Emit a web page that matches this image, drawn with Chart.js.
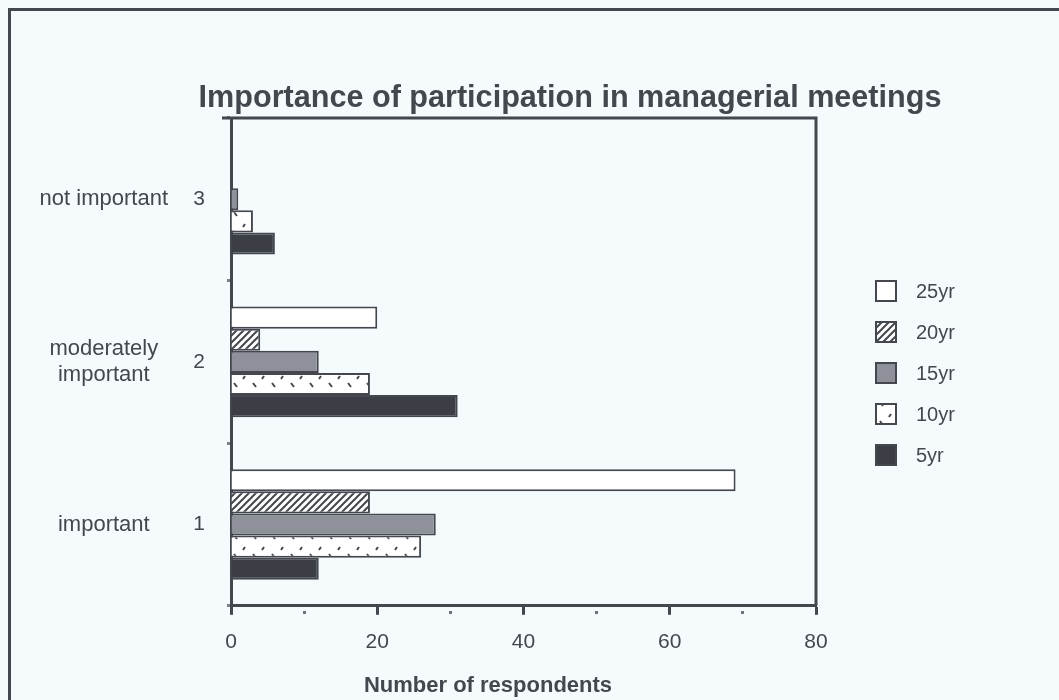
<!DOCTYPE html>
<html>
<head>
<meta charset="utf-8">
<script src="https://cdn.jsdelivr.net/npm/chart.js@4.4.1/dist/chart.umd.min.js"></script>
<style>
  html, body { margin: 0; padding: 0; background: #f5fafd; }
  #wrap { position: relative; width: 1059px; height: 700px; overflow: hidden; }
  #frame { position: absolute; left: 8px; top: 8px; width: 1100px; height: 800px;
           border-top: 3px solid #45474f; border-left: 3px solid #45474f; }
  .txt { position: absolute; transform: translateX(-50%); white-space: nowrap;
         font-family: "Liberation Sans", Arial, sans-serif; font-weight: bold; color: #45474f; }
  #title { left: 570px; top: 79px; font-size: 30.6px; }
  #xtitle { left: 488px; top: 672px; font-size: 22px; }
  canvas { position: absolute; left: 0; top: 0; }
</style>
</head>
<body>
<div id="wrap">
  <div id="frame"></div>
  <canvas id="chart" width="1059" height="700"></canvas>
  <div id="title" class="txt">Importance of participation in managerial meetings</div>
  <div id="xtitle" class="txt">Number of respondents</div>
</div>
<script>
// data (top to bottom: 3, 2, 1)
const categories = ['3', '2', '1'];
const categoryNames = ['not important', ['moderately', 'important'], 'important'];
const seriesNames = ['25yr', '20yr', '15yr', '10yr', '5yr'];
const values25yr = [0, 20, 69];
const values20yr = [0, 4, 19];
const values15yr = [1, 12, 28];
const values10yr = [3, 19, 26];
const values5yr = [6, 31, 12];
const xTicks = [0, 20, 40, 60, 80];

(() => {
    const ink = '#45474f';
    const canvas = document.getElementById('chart');
    const ctx = canvas.getContext('2d');

    // small tiles for the hatched fills
    function tile(size, draw) {
        const c = document.createElement('canvas');
        c.width = size; c.height = size;
        const g = c.getContext('2d');
        g.fillStyle = '#ffffff';
        g.fillRect(0, 0, size, size);
        g.strokeStyle = ink;
        g.lineWidth = 2;
        draw(g, size);
        return ctx.createPattern(c, 'repeat');
    }
    const hatch = tile(7, (g, s) => {
        g.beginPath();
        g.moveTo(-1, s + 1); g.lineTo(s + 1, -1);
        g.moveTo(-2, 2); g.lineTo(2, -2);
        g.moveTo(s - 2, s + 2); g.lineTo(s + 2, s - 2);
        g.stroke();
    });
    const dashes = tile(19, (g) => {
        g.beginPath();
        g.moveTo(6, 3); g.lineTo(9, 7);
        g.moveTo(15, 18); g.lineTo(17, 15);
        g.stroke();
    });

    const fills = ['#ffffff', hatch, '#8e9199', dashes, '#3c3e46'];
    const series = [values25yr, values20yr, values15yr, values10yr, values5yr];
    const isMajor = c => c.tick && xTicks.includes(c.tick.value);

    // legend drawn at the right, beside the plot
    const sideLegend = {
        id: 'sideLegend',
        afterDraw(chart) {
            const c = chart.ctx;
            const x = 875, y0 = 280, step = 41, box = 22;
            c.save();
            chart.data.datasets.forEach((ds, i) => {
                const y = y0 + i * step;
                c.fillStyle = ds.backgroundColor;
                c.fillRect(x, y, box, box);
                c.lineWidth = 2;
                c.strokeStyle = ink;
                c.strokeRect(x + 1, y + 1, box - 2, box - 2);
                c.fillStyle = ink;
                c.font = '20px "Liberation Sans", Arial, sans-serif';
                c.textBaseline = 'middle';
                c.fillText(ds.label, x + 41, y + box / 2 + 1);
            });
            c.restore();
        }
    };

    // top and right edges of the plot box
    const plotFrame = {
        id: 'plotFrame',
        afterDatasetsDraw(chart) {
            const {ctx: c, chartArea: a} = chart;
            c.save();
            c.strokeStyle = ink;
            c.lineWidth = 3;
            c.beginPath();
            c.moveTo(a.left - 9, a.top);
            c.lineTo(a.right, a.top);
            c.lineTo(a.right, a.bottom);
            c.stroke();
            c.restore();
        }
    };

    Chart.defaults.font.family = '"Liberation Sans", Arial, sans-serif';

    new Chart(ctx, {
        type: 'bar',
        data: {
            labels: categories,
            datasets: seriesNames.map((name, i) => ({
                label: name,
                data: series[i],
                backgroundColor: fills[i],
                borderColor: ink,
                borderWidth: 2,
                barPercentage: 1,
                categoryPercentage: 0.68
            }))
        },
        options: {
            indexAxis: 'y',
            responsive: false,
            animation: false,
            layout: { padding: { left: 34, right: 243, top: 118, bottom: 30 } },
            plugins: { legend: { display: false }, tooltip: { enabled: false } },
            scales: {
                x: {
                    type: 'linear', min: 0, max: 80,
                    ticks: {
                        stepSize: 10, color: ink, font: { size: 21 }, padding: 15,
                        callback: v => xTicks.includes(v) ? String(v) : ''
                    },
                    grid: {
                        drawOnChartArea: false, tickLength: 9,
                        tickWidth: 3,
                        tickColor: c => isMajor(c) ? ink : '#6e7179',
                        tickBorderDash: c => isMajor(c) ? [] : [0, 4, 3, 20]
                    },
                    border: { color: ink, width: 3 }
                },
                y: {
                    type: 'category', position: 'left', weight: 0, offset: true,
                    grid: { offset: true, drawOnChartArea: false, tickLength: 4, tickWidth: 3, tickColor: '#7d8088' },
                    border: { color: ink, width: 3 },
                    ticks: { color: ink, font: { size: 21 }, padding: 22 },
                    afterFit: s => { s.width = 39; }
                },
                yName: {
                    type: 'category', position: 'left', weight: 1, offset: true,
                    labels: categoryNames,
                    grid: { display: false },
                    border: { display: false },
                    ticks: { color: ink, font: { size: 22 }, crossAlign: 'center', padding: 16 },
                    afterFit: s => { s.width = 158; }
                }
            }
        },
        plugins: [plotFrame, sideLegend]
    });
})();
</script>
</body>
</html>
